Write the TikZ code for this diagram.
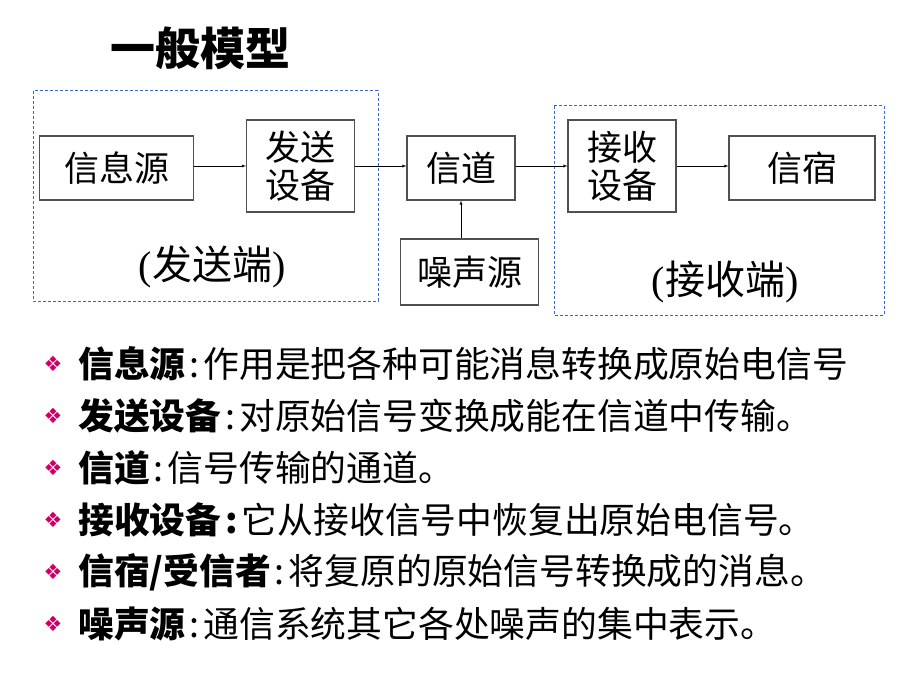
\documentclass[tikz,border=0pt]{standalone}
\usepackage{fontspec}
\setmainfont{Liberation Serif}
\newfontfamily\cjk{Noto Sans CJK SC}
\newfontfamily\symfont{DejaVu Sans}
\definecolor{sideblue}{HTML}{3A66D0}
\definecolor{bulletred}{HTML}{CC0066}
\definecolor{boxgray}{HTML}{505050}
\newcommand{\colsep}{\hspace{4pt}:\hspace{4pt}}

\begin{document}
\begin{tikzpicture}[x=1pt,y=-1pt]
  \tikzstyle{block} = [draw=boxgray, line width=1.2pt, inner sep=0pt, font=\fontsize{35}{38}\selectfont\cjk]
  \tikzstyle{side} = [draw=sideblue, line width=1pt, dash pattern=on 3pt off 2pt]
  \tikzstyle{item} = [anchor=west, inner sep=0pt, font=\fontsize{35.8}{37}\selectfont\cjk]
  \tikzstyle{dot} = [text=bulletred, inner sep=0pt, font=\fontsize{21}{21}\selectfont\symfont]
  \useasboundingbox (0,0) rectangle (920,690);

  \draw (200,48) node[font=\fontsize{45}{47}\selectfont\cjk\bfseries] (title) {一般模型};

  % sender and receiver sides
  \draw[side] (33,91) rectangle (378,301);
  \draw[side] (554,106) rectangle (884,315);

  \draw (116.5,168) node[block, minimum width=154pt, minimum height=64pt] (src) {信息源};
  \draw (300.5,166) node[block, minimum width=108pt, minimum height=92pt, align=center] (tx) {发送\\设备};
  \draw [-latex] (src.east |- tx.west) -- (tx.west);
  \draw (461,168) node[block, minimum width=108pt, minimum height=64pt] (ch) {信道};
  \draw [-latex] (tx.east) -- (tx.east -| ch.west);
  \draw (469.5,272) node[block, minimum width=138pt, minimum height=66pt] (noise) {噪声源};
  \draw [-latex] (noise.north -| ch.south) -- (ch.south);
  \draw (622,166) node[block, minimum width=108pt, minimum height=92pt, align=center] (rx) {接收\\设备};
  \draw [-latex] (ch.east |- rx.west) -- (rx.west);
  \draw (802,168) node[block, minimum width=146pt, minimum height=64pt] (sink) {信宿};
  \draw [-latex] (rx.east) -- (rx.east -| sink.west);

  \draw (212,267) node[font=\fontsize{40}{42}\selectfont] (txlab) {(\cjk 发送端\rmfamily)};
  \draw (725,282) node[font=\fontsize{40}{42}\selectfont] (rxlab) {(\cjk 接收端\rmfamily)};

  % notes
  \foreach \y/\txt [count=\i] in {
      364/{{\bfseries 信息源}\colsep 作用是把各种可能消息转换成原始电信号},
      416/{{\bfseries 发送设备}\colsep 对原始信号变换成能在信道中传输。},
      468/{{\bfseries 信道}\colsep 信号传输的通道。},
      520/{{\bfseries 接收设备\colsep}它从接收信号中恢复出原始电信号。},
      572/{{\bfseries 信宿/受信者}\colsep 将复原的原始信号转换成的消息。},
      624/{{\bfseries 噪声源}\colsep 通信系统其它各处噪声的集中表示。}} {
    \draw (53,\y) node[dot] (b\i) {❖};
    \draw (78,\y) node[item] (t\i) {\txt};
  }
\end{tikzpicture}
\end{document}
